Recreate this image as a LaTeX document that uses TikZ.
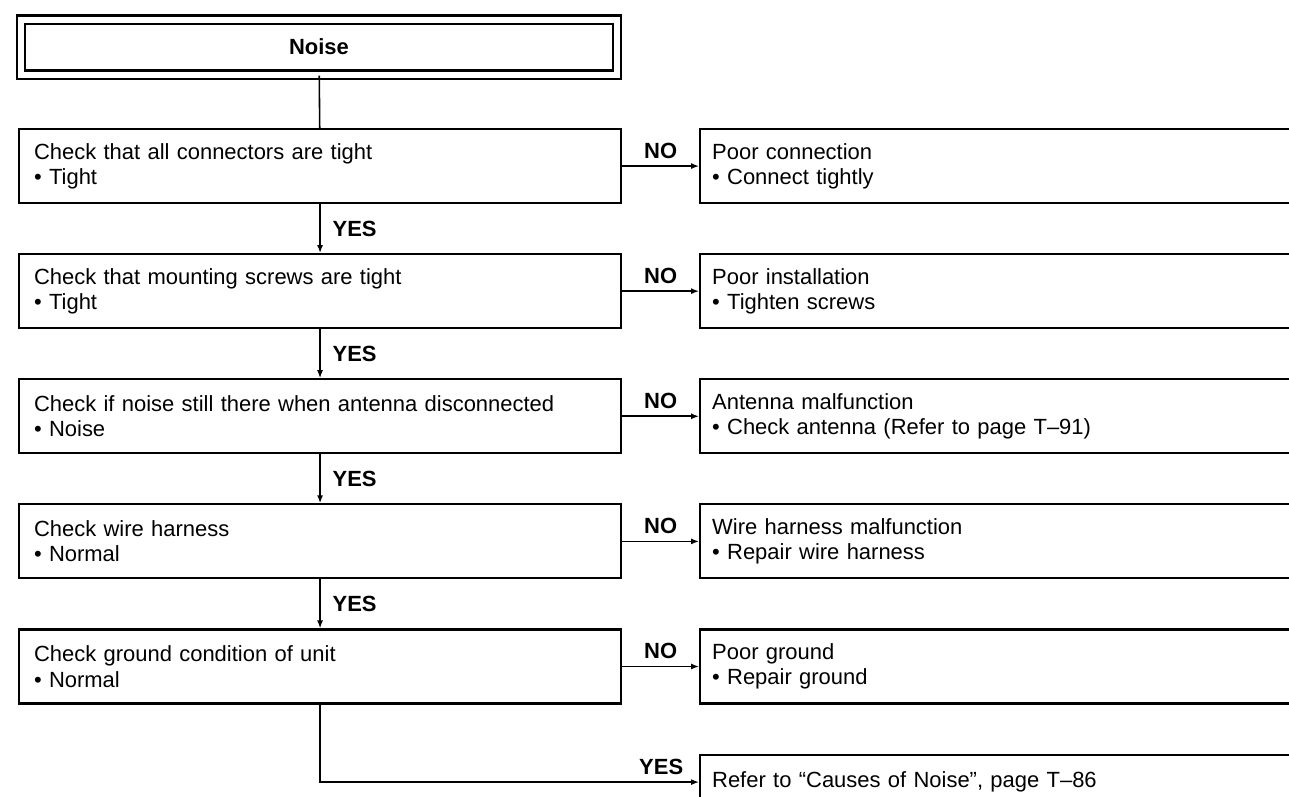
\documentclass[tikz,border=0pt]{standalone}
\usepackage{fontspec}
\setmainfont{Liberation Sans}
\usetikzlibrary{arrows.meta,positioning}
\tikzset{
  checkbox/.style={draw=black, line width=1.2pt, align=left, text width=11.44cm, inner xsep=0.3cm, minimum height=1.48cm, font=\fontsize{12.5}{14.5}\selectfont},
  fixbox/.style={draw=black, line width=1.2pt, align=left, text width=12cm, inner xsep=0.24cm, minimum height=1.48cm, font=\fontsize{12.5}{14.5}\selectfont},
  titlebox/.style={draw=black, double, double distance=0.12cm, line width=1.2pt, minimum width=11.92cm, minimum height=1.1cm, font=\fontsize{12.5}{14.5}\selectfont\bfseries},
  arrow/.style={-{Latex[length=1.6mm,width=1.2mm]}, line width=0.9pt},
  link/.style={line width=0.9pt},
  answer/.style={font=\fontsize{12.5}{14.5}\selectfont\bfseries, inner sep=1pt}
}

\begin{document}
\begin{tikzpicture}[node distance=0.98cm]
\useasboundingbox (0,0) rectangle (25.78,-15.92);
\clip (0,0) rectangle (25.78,-15.92);

\node[titlebox] (noise) at (6.38,-0.94) {Noise};

% checks, left column
\node[checkbox, anchor=north west] (c1) at (0.36,-2.56) {Check that all connectors are tight\\\textbullet\ Tight};
\node[checkbox, below=of c1] (c2) {Check that mounting screws are tight\\\textbullet\ Tight};
\node[checkbox, below=of c2] (c3) {Check if noise still there when antenna disconnected\\\textbullet\ Noise};
\node[checkbox, below=of c3] (c4) {Check wire harness\\\textbullet\ Normal};
\node[checkbox, below=of c4] (c5) {Check ground condition of unit\\\textbullet\ Normal};

% remedies, right column
\node[fixbox, right=1.54cm of c1] (f1) {Poor connection\\\textbullet\ Connect tightly};
\node[fixbox, right=1.54cm of c2] (f2) {Poor installation\\\textbullet\ Tighten screws};
\node[fixbox, right=1.54cm of c3] (f3) {Antenna malfunction\\\textbullet\ Check antenna (Refer to page T--91)};
\node[fixbox, right=1.54cm of c4] (f4) {Wire harness malfunction\\\textbullet\ Repair wire harness};
\node[fixbox, right=1.54cm of c5] (f5) {Poor ground\\\textbullet\ Repair ground};
\node[fixbox, minimum height=1.1cm, below=0.98cm of f5.south west, anchor=north west] (ref) {Refer to ``Causes of Noise'', page T--86};

\draw[link] (noise) -- (c1);
\draw[arrow] (c1) -- node[answer, right=2mm] {YES} (c2);
\draw[arrow] (c2) -- node[answer, right=2mm] {YES} (c3);
\draw[arrow] (c3) -- node[answer, right=2mm] {YES} (c4);
\draw[arrow] (c4) -- node[answer, right=2mm] {YES} (c5);

\draw[arrow] (c1) -- node[answer, above=1mm] {NO} (f1);
\draw[arrow] (c2) -- node[answer, above=1mm] {NO} (f2);
\draw[arrow] (c3) -- node[answer, above=1mm] {NO} (f3);
\draw[arrow] (c4) -- node[answer, above=1mm] {NO} (f4);
\draw[arrow] (c5) -- node[answer, above=1mm] {NO} (f5);

\draw[arrow] (c5) |- node[answer, pos=0.95, above=1mm] {YES} (ref);
\end{tikzpicture}
\end{document}
